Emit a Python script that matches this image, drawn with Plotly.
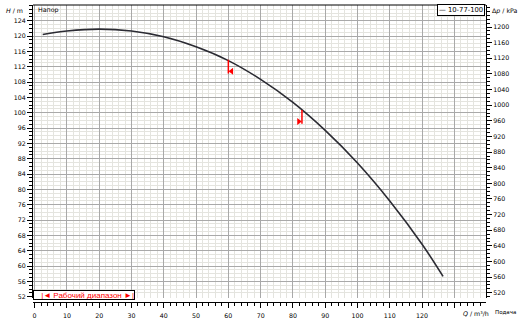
import plotly.graph_objects as go
import numpy as np

# ---- data ----
q_flow = [2.5, 10, 20, 30, 40, 50, 60, 70, 80, 90, 100, 110, 120, 126.5]
h_head = [120.4, 121.3, 121.8, 121.3, 119.8, 117.2, 113.6, 108.7, 102.7, 95.4, 86.9, 77.0, 65.7, 57.3]
work_q = [60, 82.8]          # working range limits (m3/h)
work_h = [113.8, 100.7]      # head on curve at those limits
series_name = "10-77-100"
x_ticks = list(range(0, 130, 10))
y_ticks = list(range(52, 128, 4))
y2_ticks = list(range(520, 1240, 40))

KPA = 9.807
y_range = [51.8, 128.1]
x_range = [-0.5, 139.8]

grid_major = '#a9a9a9'
grid_minor = '#e4e4df'
FONT = 'DejaVu Sans, Verdana, sans-serif'
tickfont = dict(family=FONT, size=6.3, color='#000000')

fig = go.Figure()
fig.add_trace(go.Scatter(x=q_flow, y=h_head, mode='lines', name=series_name,
                         line=dict(color='#2b2b33', width=1.6, shape='spline')))
fig.add_trace(go.Scatter(x=q_flow, y=[v * KPA for v in h_head], yaxis='y2', mode='lines',
                         line=dict(width=0), opacity=0, hoverinfo='skip'))

for i, (wq, wh) in enumerate(zip(work_q, work_h)):
    fig.add_trace(go.Scatter(x=[wq, wq], y=[wh, wh - 3.6], mode='lines',
                             line=dict(color='red', width=1.5)))
    dx = 1.0 if i == 0 else -1.0
    fig.add_trace(go.Scatter(x=[wq + dx], y=[wh - 3.0], mode='markers',
                             marker=dict(symbol='triangle-left' if i == 0 else 'triangle-right',
                                         size=6, color='red')))

B = 18
H_PAPER = 320 - 5 - B
ydom = [4.5 / H_PAPER, 1]
fig.update_layout(
    width=523, height=320, margin=dict(l=33, r=37, t=5, b=B),
    plot_bgcolor='white', paper_bgcolor='white', showlegend=False,
    font=tickfont,
    xaxis=dict(range=x_range, anchor='free', position=0, automargin=False,
               tickvals=x_ticks + [130], ticktext=[str(v) for v in x_ticks] + [''],
               ticks='outside', ticklen=5, tickcolor='black', ticklabelstandoff=2,
               showline=True, linecolor='black', linewidth=1,
               showgrid=True, gridcolor=grid_major, gridwidth=1, zeroline=False,
               minor=dict(dtick=2, tick0=0, ticks='outside', ticklen=3, tickcolor='black',
                          showgrid=True, gridcolor=grid_minor, gridwidth=1),
               tickfont=tickfont),
    yaxis=dict(domain=ydom, range=y_range, tickvals=y_ticks, automargin=False,
               ticks='outside', ticklen=5, tickcolor='black',
               showline=True, linecolor='black', linewidth=1,
               showgrid=True, gridcolor=grid_major, gridwidth=1, zeroline=False,
               minor=dict(dtick=1, tick0=0, ticks='outside', ticklen=3, tickcolor='black',
                          showgrid=True, gridcolor=grid_minor, gridwidth=1),
               tickfont=tickfont),
    yaxis2=dict(domain=ydom, overlaying='y', side='right', anchor='x', automargin=False,
                range=[v * KPA for v in y_range], tickvals=y2_ticks,
                ticks='outside', ticklen=5, tickcolor='black',
                showline=True, linecolor='black', linewidth=1,
                showgrid=False, zeroline=False,
                minor=dict(dtick=10, tick0=0, ticks='outside', ticklen=3, tickcolor='black',
                           showgrid=False),
                tickfont=tickfont),
)

fig.add_shape(type='line', xref='paper', yref='paper', x0=0, x1=1, y0=1, y1=1,
              line=dict(color='black', width=1))

def py(px):
    return (320 - B - px) / H_PAPER

def pxx(px):
    return (px - 33) / 453

small = dict(family=FONT, size=6.3, color='#000')
ann = [
    dict(text='Напор', x=pxx(36), y=py(4.5), xanchor='left', yanchor='top', font=small),
    dict(text='<i>H</i> / m', x=pxx(25), y=py(10), xanchor='right', yanchor='middle', font=small),
    dict(text='Δ<i>p</i> / kPa', x=pxx(490), y=py(11), xanchor='left', yanchor='middle', font=small),
    dict(text='<i>Q</i> / m³/h', x=pxx(476), y=py(313), xanchor='center', yanchor='middle', font=small),
    dict(text='Подача', x=pxx(493), y=py(312), xanchor='left', yanchor='middle',
         font=dict(family=FONT, size=5.5, color='#000')),
    dict(text='— ' + series_name, x=pxx(485), y=py(4), xanchor='right', yanchor='top',
         font=dict(family=FONT, size=6.8, color='black'), bordercolor='black', borderwidth=1,
         bgcolor='white', borderpad=1),
    dict(text='|◄ Рабочий диапазон ►|', x=0, y=py(299.5), xanchor='left', yanchor='bottom',
         font=dict(family='Liberation Sans, Arial', size=8, color='red'), bordercolor='black',
         borderwidth=1, bgcolor='white', borderpad=0, width=100, height=8, align='right'),
]
for a in ann:
    a.update(xref='paper', yref='paper', showarrow=False)
    fig.add_annotation(**a)

fig.write_html("out.html")
